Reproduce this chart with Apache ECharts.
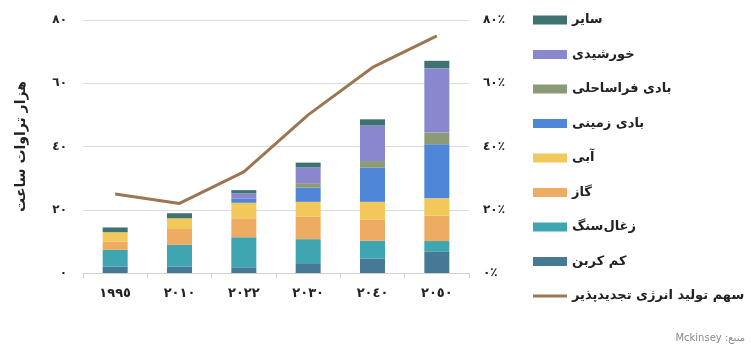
<!DOCTYPE html>
<html>
<head>
<meta charset="utf-8">
<script src="https://cdn.jsdelivr.net/npm/echarts@6/dist/echarts.min.js"></script>
<style>
  html, body { margin: 0; padding: 0; background: #fff; }
  #chart { width: 751px; height: 346px; }
</style>
</head>
<body>
<div id="chart"></div>
<script>
// Electricity generation by source (thousand TWh) and renewable share (%)
const categories = ['١٩٩٥', '٢٠١٠', '٢٠٢٢', '٢٠٣٠', '٢٠٤٠', '٢٠٥٠'];

const lowCarbon = [2.0, 2.0, 1.8, 3.1, 4.6, 6.7];
const coal      = [5.3, 6.9, 9.5, 7.6, 5.6, 3.4];
const gas       = [2.6, 5.0, 6.0, 7.1, 6.6, 8.0];
const hydro     = [3.0, 3.4, 4.9, 4.7, 5.7, 5.5];
const onshore   = [0, 0, 1.4, 4.5, 10.8, 17.1];
const offshore  = [0, 0, 0, 1.4, 2.1, 3.7];
const solar     = [0, 0, 1.6, 5.0, 11.2, 20.3];
const other     = [1.5, 1.6, 1.0, 1.5, 2.0, 2.4];

const renewableShare = [25, 22, 32, 50, 65, 75];

const leftTicks  = [0, 20, 40, 60, 80];
const rightTicks = [0, 20, 40, 60, 80];

// Arabic-Indic digits for the tick labels
const toIndic = n => String(n).replace(/[0-9]/g, d => '٠١٢٣٤٥٦٧٨٩'[d]);

const stackNames = ['کم کربن', 'زغال‌سنگ', 'گاز', 'آبی', 'بادی زمینی', 'بادی فراساحلی', 'خورشیدی', 'سایر'];
const stackData  = [lowCarbon, coal, gas, hydro, onshore, offshore, solar, other];
const stackColors = ['#467a94', '#3fa5b1', '#eeab62', '#f2c85b', '#4f86d8', '#8d9a78', '#8b87cf', '#3f7371'];
const lineName = 'سهم تولید انرژی تجدیدپذیر';

const FONT = 'DejaVu Sans';

const series = stackNames.map((name, i) => ({
  name,
  type: 'bar',
  stack: 'gen',
  barWidth: 25,
  data: stackData[i],
  itemStyle: { color: stackColors[i] },
  emphasis: { disabled: true }
}));

series.push({
  name: lineName,
  type: 'line',
  yAxisIndex: 1,
  data: renewableShare,
  symbol: 'none',
  lineStyle: { color: '#9b7652', width: 3 },
  itemStyle: { color: '#9b7652' },
  z: 5
});

const chart = echarts.init(document.getElementById('chart'), null, { renderer: 'canvas' });

chart.setOption({
  animation: false,
  backgroundColor: '#ffffff',
  grid: { left: 83, right: 282, top: 20, bottom: 73 },
  xAxis: {
    type: 'category',
    data: categories,
    axisLine: { lineStyle: { color: '#d0d0d0', width: 1 } },
    axisTick: { show: true, length: 5, lineStyle: { color: '#d0d0d0' } },
    axisLabel: { color: '#222', fontFamily: FONT, fontWeight: 'bold', fontSize: 13, margin: 14 }
  },
  yAxis: [
    {
      type: 'value',
      min: leftTicks[0],
      max: leftTicks[leftTicks.length - 1],
      interval: 20,
      name: 'هزار تراوات ساعت',
      nameLocation: 'middle',
      nameGap: 55,
      nameRotate: 90,
      nameTextStyle: { color: '#222', fontFamily: FONT, fontWeight: 'bold', fontSize: 14 },
      axisLine: { show: false },
      axisTick: { show: false },
      splitLine: { lineStyle: { color: '#dcdcdc', width: 1 } },
      axisLabel: { color: '#222', fontFamily: FONT, fontWeight: 'bold', fontSize: 12, margin: 16,
        formatter: v => toIndic(v) }
    },
    {
      type: 'value',
      min: rightTicks[0],
      max: rightTicks[rightTicks.length - 1],
      interval: 20,
      axisLine: { show: false },
      axisTick: { show: false },
      splitLine: { show: false },
      axisLabel: { color: '#222', fontFamily: FONT, fontWeight: 'bold', fontSize: 12, margin: 14,
        formatter: v => toIndic(v) + '٪' }
    }
  ],
  legend: {
    orient: 'vertical',
    left: 528,
    top: 6,
    itemWidth: 34,
    itemHeight: 9,
    itemGap: 16.5,
    icon: 'rect',
    selectedMode: false,
    data: ['سایر', 'خورشیدی', 'بادی فراساحلی', 'بادی زمینی', 'آبی', 'گاز', 'زغال‌سنگ', 'کم کربن',
      { name: lineName, icon: 'path://M0,0 L34,0 L34,3 L0,3 Z' }],
    textStyle: { color: '#222', fontFamily: FONT, fontWeight: 'bold', fontSize: 13, lineHeight: 18 }
  },
  graphic: [
    {
      type: 'text',
      right: 6,
      bottom: 3,
      style: {
        text: '\u202Bمنبع: Mckinsey\u202C',
        fill: '#8a8a8a',
        font: '10px "' + FONT + '"'
      }
    }
  ],
  series
});
</script>
</body>
</html>
